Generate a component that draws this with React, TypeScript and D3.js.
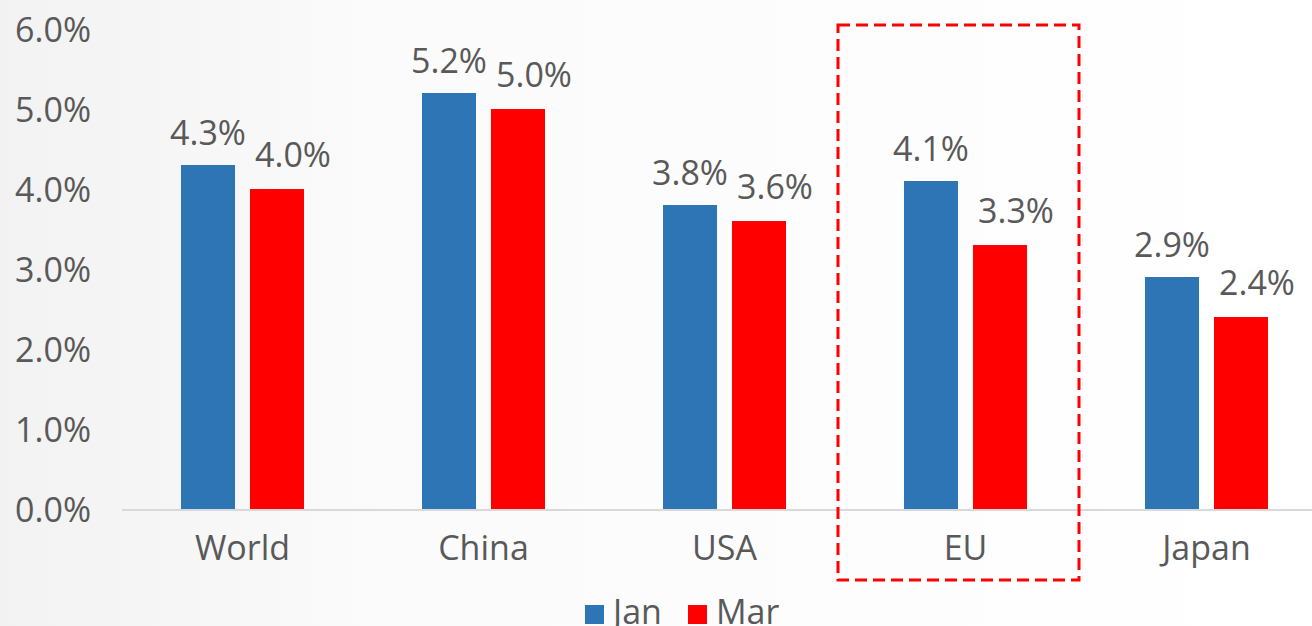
import React from "react";
import { scaleBand, scaleLinear, select, axisLeft } from "d3";

const categories = ["World", "China", "USA", "EU", "Japan"];
const seriesNames = ["Jan", "Mar"];
const janValues = [4.3, 5.2, 3.8, 4.1, 2.9];
const marValues = [4.0, 5.0, 3.6, 3.3, 2.4];
const yTicks = [0, 1, 2, 3, 4, 5, 6];
const highlighted = "EU";

const colors: Record<string, string> = { Jan: "#2E75B6", Mar: "#FF0000" };
const W = 1312;
const H = 626;
const font = "'Open Sans', 'Noto Sans', sans-serif";
const textColor = "#595959";
const fs = 34;

export default function App() {
  const axisRef = React.useRef<SVGGElement>(null);

  const x = scaleBand<string>().domain(categories).range([122, 1327]).padding(0);
  const inner = scaleBand<string>()
    .domain(seriesNames)
    .range([59, 182])
    .paddingInner(0.217)
    .paddingOuter(0);
  const y = scaleLinear().domain([0, 6]).range([509, 29]);

  const series = [
    { name: "Jan", values: janValues },
    { name: "Mar", values: marValues },
  ];

  React.useEffect(() => {
    const g = select(axisRef.current);
    g.selectAll("*").remove();
    g.call(
      axisLeft(y)
        .tickValues(yTicks)
        .tickSize(0)
        .tickPadding(0)
        .tickFormat((d) => `${(+d).toFixed(1)}%`)
    );
    g.select(".domain").remove();
    g.selectAll("text")
      .attr("font-family", font)
      .attr("font-size", fs)
      .attr("fill", textColor)
      .attr("dy", "0.36em");
  }, []);

  const hx = (x(highlighted) ?? 0) - 7;

  return (
    <svg
      width={W}
      height={H}
      style={{ position: "absolute", left: 0, top: 0 }}
      fontFamily={font}
    >
      <defs>
        <linearGradient id="bg" x1="0" y1="0" x2="1" y2="0">
          <stop offset="0" stopColor="#f2f2f2" />
          <stop offset="0.3" stopColor="#fbfbfb" />
          <stop offset="1" stopColor="#ffffff" />
        </linearGradient>
      </defs>
      <rect width={W} height={H} fill="url(#bg)" />

      <g ref={axisRef} transform="translate(91,0)" />

      {series.map((s) =>
        s.values.map((v, i) => {
          const bx = (x(categories[i]) ?? 0) + (inner(s.name) ?? 0);
          const bw = inner.bandwidth();
          const cx = bx + bw / 2 + (s.name === "Mar" ? 16 : 0);
          return (
            <g key={s.name + i}>
              <rect
                x={bx}
                y={y(v)}
                width={bw}
                height={y(0) - y(v)}
                fill={colors[s.name]}
              />
              <text
                x={cx}
                y={y(v) - (s.name === "Mar" ? 22 : 20)}
                textAnchor="middle"
                fontSize={fs}
                fill={textColor}
              >
                {`${v.toFixed(1)}%`}
              </text>
            </g>
          );
        })
      )}

      <line x1={122} x2={W} y1={y(0) + 1} y2={y(0) + 1} stroke="#d9d9d9" strokeWidth={2} />

      {categories.map((c) => (
        <text
          key={c}
          x={(x(c) ?? 0) + x.bandwidth() / 2}
          y={560}
          textAnchor="middle"
          fontSize={fs}
          fill={textColor}
        >
          {c}
        </text>
      ))}

      <rect
        x={hx}
        y={25}
        width={x.bandwidth()}
        height={555}
        fill="none"
        stroke="#FF0000"
        strokeWidth={3}
        strokeDasharray="12,6"
      />

      {seriesNames.map((n, i) => (
        <g key={n} transform={`translate(${585 + i * 103},0)`}>
          <rect x={0} y={605} width={19} height={19} fill={colors[n]} />
          <text x={28} y={624} fontSize={fs} fill={textColor}>
            {n}
          </text>
        </g>
      ))}
    </svg>
  );
}
